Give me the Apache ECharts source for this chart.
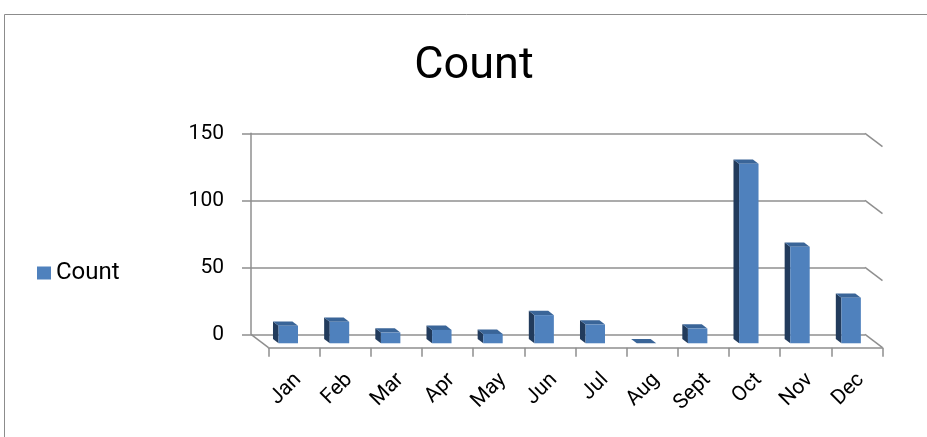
<!DOCTYPE html>
<html>
<head>
<meta charset="utf-8">
<script src="https://cdn.jsdelivr.net/npm/echarts@6/dist/echarts.min.js"></script>
<style>
html,body{margin:0;padding:0;background:#fff;}
#chart{width:927px;height:437px;}
</style>
</head>
<body>
<div id="chart"></div>
<script>
// ---- data ----
const categories = ["Jan", "Feb", "Mar", "Apr", "May", "Jun", "Jul", "Aug", "Sept", "Oct", "Nov", "Dec"];
const counts = [13, 16, 8, 10, 7, 21, 14, 0, 11, 134, 72, 34];
const yTicks = [0, 50, 100, 150];
const seriesName = "Count";
const titleText = "Count";

// ---- 3D look parameters ----
const DEPTH = [17.5, 13.4];   // back wall -> front edge offset (px)
const BACK_F = 0.35, FRONT_F = 0.67, BAR_W = 0.38;
const GRID_COLOR = '#8f8f8f';
const FONT = 'Roboto';

const chart = echarts.init(document.getElementById('chart'));

function renderBar(params, api) {
  const i = api.value(0), v = api.value(1);
  const base = api.coord([i, 0]);
  const top = api.coord([i, v]);
  const w = api.size([1, 0])[0] * BAR_W;
  const fx = base[0] + FRONT_F * DEPTH[0], fy = FRONT_F * DEPTH[1];
  const bx = base[0] + BACK_F * DEPTH[0], by = BACK_F * DEPTH[1];
  const fl = fx - w / 2, fr = fx + w / 2, bl = bx - w / 2, br = bx + w / 2;
  const fTop = top[1] + fy, fBot = base[1] + fy, bTop = top[1] + by, bBot = base[1] + by;
  return {
    type: 'group',
    children: [
      { type: 'polygon', shape: { points: [[bl, bTop], [fl, fTop], [fl, fBot], [bl, bBot]] }, style: { fill: '#223B5C' } },
      { type: 'polygon', shape: { points: [[bl, bTop], [br, bTop], [fr, fTop], [fl, fTop]] }, style: { fill: '#3A6598' } },
      { type: 'rect', shape: { x: fl, y: fTop, width: w, height: fBot - fTop }, style: { fill: '#4F81BD' } }
    ]
  };
}

function renderFrame(params, api) {
  const v = api.value(0);
  const cs = params.coordSys;
  const p = api.coord([0, v]);
  const right = cs.x + cs.width, left = cs.x;
  const children = [
    { type: 'line', shape: { x1: right, y1: p[1], x2: right + DEPTH[0], y2: p[1] + DEPTH[1] }, style: { stroke: GRID_COLOR, lineWidth: 1.5 } }
  ];
  if (v === 0) {
    children.push({ type: 'line', shape: { x1: left, y1: p[1], x2: left + DEPTH[0], y2: p[1] + DEPTH[1] }, style: { stroke: GRID_COLOR, lineWidth: 1.5 } });
  }
  return { type: 'group', children };
}

const backLeft = 251, backTop = 133.3, backW = 614, backH = 201;

const option = {
  animation: false,
  backgroundColor: '#fff',
  title: {
    text: titleText,
    left: 469,
    textAlign: 'center',
    top: 39,
    textStyle: { fontFamily: FONT, fontSize: 45, fontWeight: 'normal', color: '#000' }
  },
  legend: {
    data: [seriesName],
    left: 32,
    top: 256,
    icon: 'rect',
    itemWidth: 14,
    itemHeight: 13,
    itemGap: 5,
    selectedMode: false,
    textStyle: { fontFamily: FONT, fontSize: 24, color: '#000' }
  },
  graphic: [
    { type: 'rect', shape: { x: 4.5, y: 14.5, width: 1000, height: 1000 }, style: { fill: null, stroke: '#8c8c8c', lineWidth: 1 }, z: -1 }
  ],
  grid: [
    { left: backLeft, top: backTop, width: backW, height: backH },
    { left: backLeft + DEPTH[0], top: backTop + DEPTH[1], width: backW, height: backH },
    { left: backLeft + DEPTH[0] + 4, top: backTop + DEPTH[1], width: backW, height: backH }
  ],
  xAxis: [
    { type: 'category', gridIndex: 0, data: categories, show: false },
    {
      type: 'category', gridIndex: 1, data: categories,
      axisLine: { lineStyle: { color: GRID_COLOR, width: 1.5 } },
      axisTick: { show: true, length: 9, interval: 0, lineStyle: { color: GRID_COLOR, width: 1.5 } },
      axisLabel: { show: false }
    },
    {
      type: 'category', gridIndex: 2, data: categories,
      axisLine: { show: false }, axisTick: { show: false },
      axisLabel: { interval: 0, rotate: 45, margin: 29, fontFamily: FONT, fontSize: 21, color: '#000' }
    }
  ],
  yAxis: [
    {
      type: 'value', gridIndex: 0, min: 0, max: 150, interval: 50,
      axisLine: { show: true, lineStyle: { color: GRID_COLOR, width: 1.5 } },
      axisTick: { show: true, length: 9, lineStyle: { color: GRID_COLOR, width: 1.5 } },
      axisLabel: { margin: 27, fontFamily: FONT, fontSize: 21, color: '#000' },
      splitLine: { show: true, lineStyle: { color: GRID_COLOR, width: 1.5 } }
    },
    { type: 'value', gridIndex: 1, min: 0, max: 150, show: false },
    { type: 'value', gridIndex: 2, min: 0, max: 150, show: false }
  ],
  series: [
    {
      type: 'custom',
      xAxisIndex: 0, yAxisIndex: 0,
      renderItem: renderFrame,
      data: yTicks.map(v => [v]),
      encode: { y: 0 },
      silent: true,
      z: 1
    },
    {
      name: seriesName,
      type: 'custom',
      xAxisIndex: 0, yAxisIndex: 0,
      renderItem: renderBar,
      itemStyle: { color: '#4F81BD' },
      data: categories.map((c, i) => [i, counts[i]]),
      encode: { x: 0, y: 1 },
      z: 3
    }
  ]
};
chart.setOption(option);
</script>
</body>
</html>
